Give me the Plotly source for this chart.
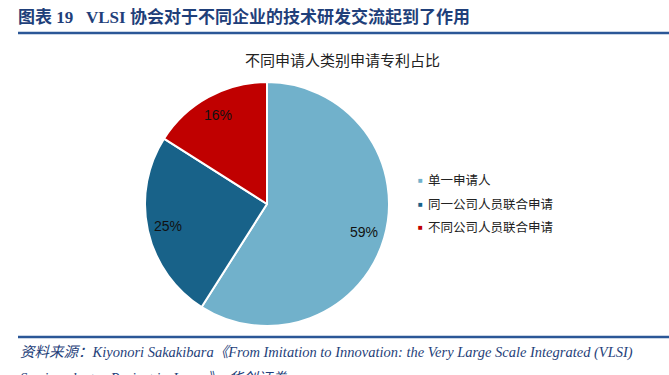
import math
import plotly.graph_objects as go

categories = ["单一申请人", "同一公司人员联合申请", "不同公司人员联合申请"]
values = [59, 25, 16]
colors = ["#71B1CB", "#186289", "#C00000"]

W, H = 669, 375
cx, cy, R = 267, 204, 122

fig = go.Figure()
fig.add_trace(go.Pie(
    labels=categories, values=values, sort=False, direction="clockwise", rotation=0,
    marker=dict(colors=colors, line=dict(color="white", width=2)),
    textinfo="none", hoverinfo="label+percent", showlegend=False,
    domain=dict(x=[(cx - R) / W, (cx + R) / W], y=[(H - cy - R) / H, (H - cy + R) / H]),
))

annotations = []
total = sum(values)
cum = 0
for v in values:
    mid = (cum + v / 2) / total * 2 * math.pi
    cum += v
    r = 0.83 * R
    px = cx + r * math.sin(mid)
    py = cy - r * math.cos(mid)
    annotations.append(dict(
        x=px / W, y=(H - py) / H, xref="paper", yref="paper",
        text=f"{round(v / total * 100)}%", showarrow=False,
        font=dict(family="Liberation Sans, Arial", size=14, color="#111111"),
        xanchor="center", yanchor="middle"))

# legend
leg_y = [179, 203, 226]
for name, col, y in zip(categories, colors, leg_y):
    annotations.append(dict(x=416 / W, y=(H - y) / H, xref="paper", yref="paper",
                            text="■", showarrow=False, xanchor="left", yanchor="middle",
                            font=dict(size=8, color=col)))
    annotations.append(dict(x=426 / W, y=(H - y) / H, xref="paper", yref="paper",
                            text=name, showarrow=False, xanchor="left", yanchor="middle",
                            font=dict(family="Noto Sans CJK SC", size=12.5, color="#222222")))

# chart title
annotations.append(dict(x=342 / W, y=(H - 59) / H, xref="paper", yref="paper",
                        text="不同申请人类别申请专利占比", showarrow=False,
                        xanchor="center", yanchor="middle",
                        font=dict(family="Noto Sans CJK SC", size=15, color="#222222")))

# header
annotations.append(dict(x=16 / W, y=(H - 17) / H, xref="paper", yref="paper",
                        text="<b>图表 19   VLSI 协会对于不同企业的技术研发交流起到了作用</b>",
                        showarrow=False, xanchor="left", yanchor="middle",
                        font=dict(family="Liberation Serif, Noto Sans CJK SC", size=17, color="#1F3F7A")))

# source
annotations.append(dict(x=18 / W, y=(H - 352) / H, xref="paper", yref="paper",
                        text="<i>资料来源：Kiyonori Sakakibara《From Imitation to Innovation: the Very Large Scale Integrated (VLSI)</i>",
                        showarrow=False, xanchor="left", yanchor="middle",
                        font=dict(family="Liberation Serif, Noto Sans CJK SC", size=14.5, color="#1F3F7A")))
annotations.append(dict(x=18 / W, y=(H - 378) / H, xref="paper", yref="paper",
                        text="<i>Semiconductor Project in Japan》，华创证券</i>",
                        showarrow=False, xanchor="left", yanchor="middle",
                        font=dict(family="Liberation Serif, Noto Sans CJK SC", size=14.5, color="#1F3F7A")))

shapes = [
    dict(type="line", xref="paper", yref="paper", x0=18 / W, x1=1, y0=(H - 33) / H, y1=(H - 33) / H,
         line=dict(color="#2B5797", width=2.5)),
    dict(type="line", xref="paper", yref="paper", x0=18 / W, x1=1, y0=(H - 337) / H, y1=(H - 337) / H,
         line=dict(color="#2B5797", width=2.5)),
]

fig.update_layout(width=W, height=H, margin=dict(l=0, r=0, t=0, b=0),
                  paper_bgcolor="white", plot_bgcolor="white",
                  annotations=annotations, shapes=shapes)
fig.write_html("out.html", config={"displayModeBar": False},
               post_script="document.body.style.margin='0';document.body.style.overflow='hidden';")
